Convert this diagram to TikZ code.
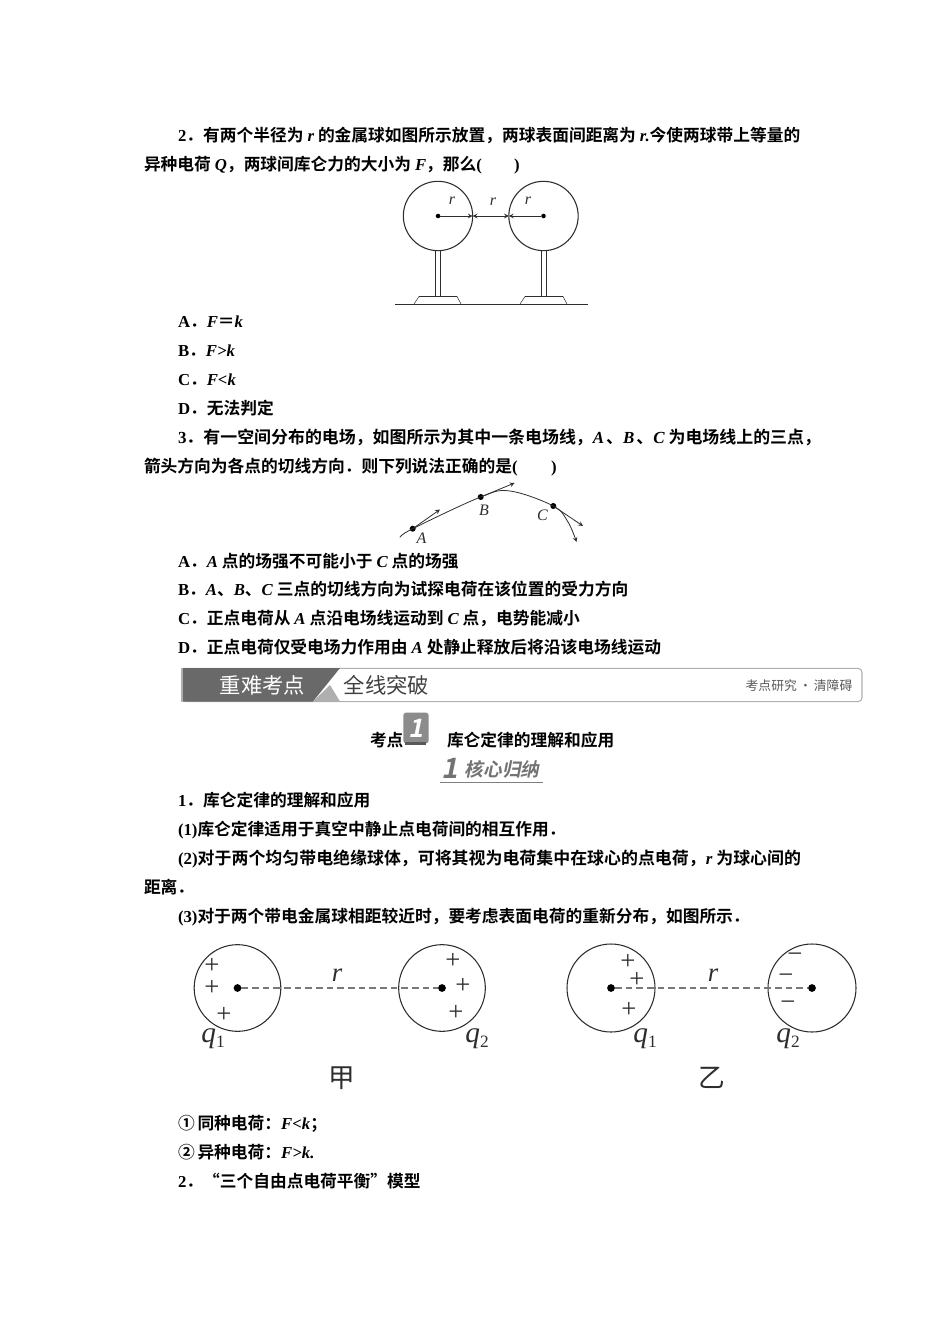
\documentclass[tikz,border=0pt]{standalone}
\usepackage{fontspec}
\setmainfont{Noto Sans CJK SC Bold}
\newfontfamily\zhreg{Noto Sans CJK SC}
\newfontfamily\zhslant[FakeSlant=0.2]{Noto Sans CJK SC Bold}
\newfontfamily\latbf{Liberation Serif Bold}
\newfontfamily\latit{Liberation Serif Italic}
\newfontfamily\latbi{Liberation Serif Bold Italic}
\newfontfamily\latrm{Liberation Serif}
\newcommand{\vb}[1]{{\latbi #1}}
\newcommand{\vs}[1]{\hspace{3pt}{\latbi #1}\hspace{3pt}}
\newcommand{\vr}[1]{{\latbi #1}\hspace{3pt}}
\newcommand{\nb}[1]{{\latbf #1}}
\newcommand{\qsub}[2]{{#1}\raisebox{-3.5pt}{\latrm\fontsize{13}{14}\selectfont #2}}
\definecolor{bannerdark}{RGB}{105,105,105}
\definecolor{bannermid}{RGB}{175,175,175}
\definecolor{figgray}{RGB}{45,45,45}
\definecolor{dashgray}{RGB}{120,120,120}
\tikzset{
  bodyline/.style={anchor=base west,inner sep=0,outer sep=0,font=\fontsize{12.55}{15}\selectfont},
  wideline/.style={bodyline,font=\fontsize{12.7}{15}\selectfont},
  ball/.style={circle,draw=figgray,thick,minimum size=#1,inner sep=0,outer sep=0},
  centerdot/.style={circle,fill=black,minimum size=5.8pt,inner sep=0,outer sep=0},
  smalldot/.style={circle,fill=black,minimum size=3.4pt,inner sep=0,outer sep=0},
  fielddot/.style={circle,fill=black,minimum size=4.5pt,inner sep=0,outer sep=0},
  figlabel/.style={inner sep=0,font=\latit\fontsize{12}{13}\selectfont,text=figgray},
  charge/.style={inner sep=0,font=\latrm\fontsize{20}{21}\selectfont,text=figgray},
  qlabel/.style={inner sep=0,font=\latit\fontsize{22}{23}\selectfont,text=figgray},
  sublabel/.style={inner sep=0,font=\zhreg\fontsize{20}{22}\selectfont,text=figgray},
}
\begin{document}
\begin{tikzpicture}[x=0.75pt,y=-0.75pt]
  \useasboundingbox (0,0) rectangle (950,1344);
  \node (l1) at (178,142) [bodyline] {\nb{2}．有两个半径为\vs{r}的金属球如图所示放置，两球表面间距离为\hspace{3pt}\vb{r.}今使两球带上等量的};
  \node (l2) at (144,171) [bodyline] {异种电荷\hspace{3pt}\vb{Q}，两球间库仑力的大小为\hspace{3pt}\vb{F}，那么\nb{(\hspace{24pt})}};
  \node (l3) at (178,327) [bodyline] {\nb{A}．\vb{F}＝\vb{k}};
  \node (l4) at (178,356) [bodyline] {\nb{B}．\vb{F>k}};
  \node (l5) at (178,385) [bodyline] {\nb{C}．\vb{F<k}};
  \node (l6) at (178,414) [bodyline] {\nb{D}．无法判定};
  \node (l7) at (178,443) [wideline] {\nb{3}．有一空间分布的电场，如图所示为其中一条电场线，\vb{A}\hspace{1.5pt}、\vb{B}\hspace{1.5pt}、\vr{C}为电场线上的三点，};
  \node (l8) at (144,472) [bodyline] {箭头方向为各点的切线方向．则下列说法正确的是\nb{(\hspace{25pt})}};
  \node (l9) at (178,567) [bodyline] {\nb{A}．\vr{A}点的场强不可能小于\vs{C}点的场强};
  \node (l10) at (178,595) [bodyline] {\nb{B}．\vb{A}、\vb{B}、\vr{C}三点的切线方向为试探电荷在该位置的受力方向};
  \node (l11) at (178,624) [bodyline] {\nb{C}．正点电荷从\vs{A}点沿电场线运动到\vs{C}点，电势能减小};
  \node (l12) at (178,653) [bodyline] {\nb{D}．正点电荷仅受电场力作用由\vs{A}处静止释放后将沿该电场线运动};

  % two metal balls
  \node (b1) at (438,216) [ball=52pt] {};
  \node (b2) at (543.5,216) [ball=52pt] {};
  \node (c1) at (438,216) [smalldot] {};
  \node (c2) at (543.5,216) [smalldot] {};
  \draw [figgray,semithick,-stealth] (c1)--(b1.east);
  \draw [figgray,semithick,stealth-stealth] (b1.east)--(b2.west);
  \draw [figgray,semithick,-stealth] (c2)--(b2.west);
  \node (r1) at (452,201) [figlabel] {r};
  \node (r2) at (493,202) [figlabel] {r};
  \node (r3) at (528,201) [figlabel] {r};
  \coordinate (g1) at (395,304);
  \coordinate (g2) at (588,304);
  \draw [figgray] (g1)--(g2);
  \draw [figgray] (435,250)--(435,296.5) (440.5,250)--(440.5,296.5) (541,250)--(541,296.5) (546,250)--(546,296.5);
  \draw [figgray] (414,304)--(419,296.5)--(457,296.5)--(461,304);
  \draw [figgray] (520,304)--(525,296.5)--(563,296.5)--(567,304);

  % field line
  \coordinate (f0) at (400,537.5);
  \coordinate (f1) at (510,491);
  \coordinate (f2) at (568,522);
  \coordinate (f3) at (576.5,542);
  \node (ptA) at (412.7,528.7) [fielddot] {};
  \node (ptB) at (480.7,497) [fielddot] {};
  \node (ptC) at (553.3,506) [fielddot] {};
  \draw [figgray,semithick,-stealth] plot [smooth,tension=0.6] coordinates {(f0) (ptA.center) (ptB.center) (f1) (ptC.center) (f2) (f3)};
  \coordinate (t1) at (440,509.5);
  \coordinate (t2) at (514.5,483);
  \coordinate (t3) at (583,526);
  \draw [figgray,semithick,-stealth] (ptA)--(t1);
  \draw [figgray,semithick,-stealth] (ptB)--(t2);
  \draw [figgray,semithick,-stealth] (ptC)--(t3);
  \node (la) at (421.5,538) [figlabel] {A};
  \node (lb) at (484,510) [figlabel] {B};
  \node (lc) at (542.5,515) [figlabel] {C};

  % banner
  \node (banner) at (522,685) [draw=bannermid,thick,rounded corners=3pt,minimum width=510pt,minimum height=25pt,inner sep=0] {};
  \fill [bannerdark] (182,668)--(340,668)--(313,701.5)--(182,701.5)--cycle;
  \fill [bannermid] (330,685)--(340,701.5)--(313,701.5)--cycle;
  \draw [bannermid,thick] (182,668)--(182,701.5);
  \node (bt1) at (262.5,685) [inner sep=0,text=white,font=\zhreg\fontsize{16}{18}\selectfont] {重难考点};
  \node (bt2) at (386.5,685) [inner sep=0,text=black!75,font=\zhreg\fontsize{16}{18}\selectfont] {全线突破};
  \node (bt3) at (799,686) [inner sep=0,text=black!65,font=\zhreg\fontsize{9.6}{11}\selectfont] {考点研究\,·\,清障碍};

  % section heading
  \node (h1) at (370,746) [bodyline] {考点};
  \node (badge) at (416,728) [fill=black!45,rounded corners=2pt,minimum width=19pt,minimum height=23pt,inner sep=0,text=white,font=\zhslant\fontsize{19}{20}\selectfont] {1};
  \fill [black!65] (405,741.5) rectangle (426,745);
  \node (h2) at (447,746) [bodyline] {库仑定律的理解和应用};
  \node (sub1) at (449.5,768) [inner sep=0,text=black!55,font=\zhslant\fontsize{21}{22}\selectfont] {1};
  \node (sub2) at (502,769) [inner sep=0,text=black!55,font=\zhslant\fontsize{14}{15}\selectfont] {核心归纳};
  \coordinate (u1) at (440,782.5);
  \coordinate (u2) at (543,782.5);
  \draw [black!50,thick] (u1)--(u2);

  \node (l13) at (178,806) [bodyline] {\nb{1}．库仑定律的理解和应用};
  \node (l14) at (178,835) [bodyline] {\nb{(1)}库仑定律适用于真空中静止点电荷间的相互作用．};
  \node (l15) at (178,864) [wideline] {\nb{(2)}对于两个均匀带电绝缘球体，可将其视为电荷集中在球心的点电荷，\vr{r}为球心间的};
  \node (l16) at (144,893) [bodyline] {距离．};
  \node (l17) at (178,922) [bodyline] {\nb{(3)}对于两个带电金属球相距较近时，要考虑表面电荷的重新分布，如图所示．};

  % like charges
  \node (p1) at (237.5,988) [ball=65pt] {};
  \node (p2) at (442,988) [ball=65pt] {};
  \node (d1) at (237.5,988) [centerdot] {};
  \node (d2) at (442,988) [centerdot] {};
  \draw [dashgray,thick,dash pattern=on 5pt off 3pt] (d1)--(d2);
  \node (rj) at (337,975) [qlabel,font=\latit\fontsize{20}{22}\selectfont] {r};
  \node (pa1) at (212,966) [charge] {+};
  \node (pa2) at (212,988) [charge] {+};
  \node (pa3) at (224,1015) [charge] {+};
  \node (pb1) at (453,961) [charge] {+};
  \node (pb2) at (463,986) [charge] {+};
  \node (pb3) at (456,1013) [charge] {+};
  \node (q1j) at (213,1039) [qlabel] {\qsub{q}{1}};
  \node (q2j) at (477,1039) [qlabel] {\qsub{q}{2}};
  \node (jia) at (342,1078) [sublabel] {甲};

  % unlike charges
  \node (s1) at (611,988) [ball=66pt] {};
  \node (s2) at (812,988) [ball=66pt] {};
  \node (e1) at (611,988) [centerdot] {};
  \node (e2) at (812,988) [centerdot] {};
  \draw [dashgray,thick,dash pattern=on 5pt off 3pt] (e1)--(e2);
  \node (ry) at (713,975) [qlabel,font=\latit\fontsize{20}{22}\selectfont] {r};
  \node (pc1) at (628,962) [charge] {+};
  \node (pc2) at (637,980) [charge] {+};
  \node (pc3) at (629,1010) [charge] {+};
  \node (m1) at (795,958) [charge] {−};
  \node (m2) at (786,979) [charge] {−};
  \node (m3) at (788,1006) [charge] {−};
  \node (q1y) at (645,1039) [qlabel] {\qsub{q}{1}};
  \node (q2y) at (788,1039) [qlabel] {\qsub{q}{2}};
  \node (yi) at (712,1078) [sublabel] {乙};

  \node (l18) at (178,1129) [bodyline] {①\,同种电荷：\vb{F<k}；};
  \node (l19) at (178,1158) [bodyline] {②\,异种电荷：\vb{F>k.}};
  \node (l20) at (178,1187) [bodyline] {\nb{2}．“三个自由点电荷平衡”模型};
\end{tikzpicture}
\end{document}
